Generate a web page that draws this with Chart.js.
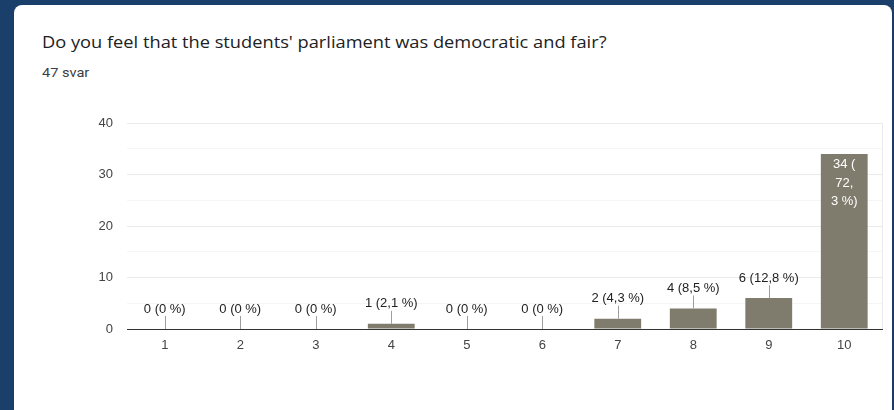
<!DOCTYPE html>
<html>
<head>
<meta charset="utf-8">
<script src="https://cdn.jsdelivr.net/npm/chart.js@4/dist/chart.umd.min.js"></script>
<style>
  html, body { margin: 0; padding: 0; }
  body { width: 894px; height: 410px; background: #1a3f6b; position: relative; overflow: hidden; }
  .card {
    position: absolute; left: 14px; top: 5px; width: 878px; height: 420px;
    background: #fff; border-radius: 8px; box-shadow: 0 1px 2px rgba(0,0,0,0.25);
  }
  .title {
    position: absolute; left: 42px; top: 31px;
    font: 16px "Open Sans", Roboto, sans-serif; color: #202124; white-space: nowrap;
    transform: scaleX(1.14); transform-origin: left center;
  }
  .sub {
    position: absolute; left: 42px; top: 65px;
    font: 13px Roboto, "Open Sans", sans-serif; color: #3c4043;
    transform: scaleX(1.12); transform-origin: left center;
  }
  #chart { position: absolute; left: 0; top: 100px; }
</style>
</head>
<body>
<div class="card"></div>
<div class="title" id="title">Do you feel that the students' parliament was democratic and fair?</div>
<div class="sub">47 svar</div>
<canvas id="chart" width="894" height="270"></canvas>
<script>
var categories = ['1', '2', '3', '4', '5', '6', '7', '8', '9', '10'];
var counts = [0, 0, 0, 1, 0, 0, 2, 4, 6, 34];
var yTicks = [0, 10, 20, 30, 40];

var total = counts.reduce(function (a, b) { return a + b; }, 0);

function labelFor(v) {
  var pct = (v / total * 100).toFixed(1).replace('.', ',').replace(/,0$/, '');
  return v + ' (' + pct + ' %)';
}

// break text at spaces, "(" and "," so it fits a given width
function wrap(ctx, text, maxW) {
  var parts = text.match(/[^ (,]*[ (,]?/g).filter(function (p) { return p.length; });
  var lines = [], cur = '';
  parts.forEach(function (p) {
    if (cur && ctx.measureText(cur + p).width > maxW) {
      lines.push(cur.trim());
      cur = p;
    } else {
      cur += p;
    }
  });
  if (cur) lines.push(cur.trim());
  return lines;
}

var annotate = {
  id: 'annotate',
  beforeDatasetsDraw: function (chart) {
    var ctx = chart.ctx, a = chart.chartArea;
    ctx.save();
    ctx.strokeStyle = '#ebebeb';
    ctx.lineWidth = 1;
    ctx.beginPath();
    ctx.moveTo(Math.round(a.right) + 0.5, a.top);
    ctx.lineTo(Math.round(a.right) + 0.5, a.bottom);
    ctx.stroke();
    ctx.restore();
  },
  afterDatasetsDraw: function (chart) {
    var ctx = chart.ctx;
    var meta = chart.getDatasetMeta(0);
    ctx.save();
    ctx.font = '13px "Liberation Sans", Arial, sans-serif';
    ctx.textAlign = 'center';
    ctx.textBaseline = 'middle';
    meta.data.forEach(function (bar, i) {
      var text = labelFor(counts[i]);
      var h = bar.base - bar.y;
      var w = ctx.measureText(text).width;
      if (h > 60 && w > bar.width) {
        var lines = wrap(ctx, text, bar.width - 20);
        ctx.fillStyle = '#ffffff';
        lines.forEach(function (ln, k) {
          ctx.fillText(ln, bar.x, bar.y + 11 + k * 18.5);
        });
      } else {
        var top = bar.y - 13;
        ctx.strokeStyle = '#9e9e9e';
        ctx.lineWidth = 1;
        ctx.beginPath();
        ctx.moveTo(Math.round(bar.x) + 0.5, bar.y);
        ctx.lineTo(Math.round(bar.x) + 0.5, top);
        ctx.stroke();
        ctx.fillStyle = '#222222';
        ctx.fillText(text, bar.x, top - 7);
      }
    });
    ctx.restore();
  }
};

new Chart(document.getElementById('chart').getContext('2d'), {
  type: 'bar',
  data: {
    labels: categories,
    datasets: [{
      data: counts,
      backgroundColor: '#7f7c6d',
      borderWidth: 0,
      barPercentage: 0.62,
      categoryPercentage: 1
    }]
  },
  options: {
    responsive: false,
    animation: false,
    layout: { padding: { top: 23, right: 12, left: 0, bottom: 0 } },
    plugins: { legend: { display: false }, tooltip: { enabled: false } },
    scales: {
      x: {
        grid: { display: false, drawTicks: false },
        border: { display: true, color: '#333333', width: 1 },
        ticks: { color: '#444444', padding: 9, font: { family: '"Liberation Sans", Arial, sans-serif', size: 13 } },
        afterFit: function (s) { s.height = 41; }
      },
      y: {
        min: yTicks[0],
        max: yTicks[yTicks.length - 1],
        ticks: {
          stepSize: 5,
          padding: 14,
          color: '#444444',
          font: { family: '"Liberation Sans", Arial, sans-serif', size: 13 },
          callback: function (v) { return yTicks.indexOf(v) >= 0 ? v : ''; }
        },
        grid: {
          drawTicks: false,
          color: function (c) {
            if (c.tick.value === 0) return 'rgba(0,0,0,0)';
            return yTicks.indexOf(c.tick.value) >= 0 ? '#ebebeb' : '#f5f5f5';
          }
        },
        border: { display: false },
        afterFit: function (s) { s.width = 127; }
      }
    }
  },
  plugins: [annotate]
});
</script>
</body>
</html>
